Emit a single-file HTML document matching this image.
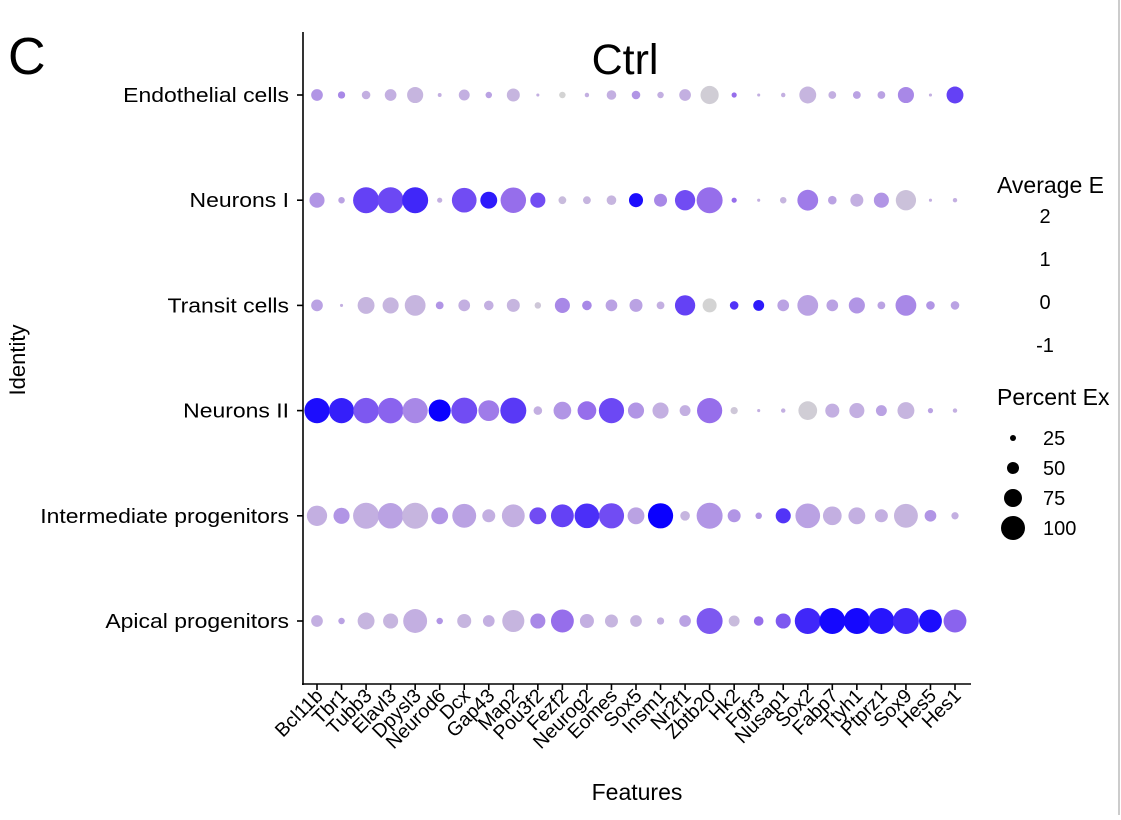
<!DOCTYPE html>
<html><head><meta charset="utf-8"><style>
body{margin:0;background:#fff;}
svg text{font-family:"Liberation Sans",sans-serif;fill:#000;}
</style></head><body>
<svg id="chart" width="1121" height="815" xmlns="http://www.w3.org/2000/svg">
<text x="8" y="74" font-size="52">C</text>
<text x="625" y="74" font-size="43" text-anchor="middle">Ctrl</text>
<text transform="translate(25,360) rotate(-90)" font-size="22" text-anchor="middle">Identity</text>
<text x="637" y="800" font-size="23" text-anchor="middle">Features</text>
<line x1="303" y1="32" x2="303" y2="685" stroke="#000" stroke-width="1.6"/>
<line x1="302" y1="684" x2="971" y2="684" stroke="#000" stroke-width="1.6"/>
<line x1="1119" y1="0" x2="1119" y2="815" stroke="#ccc" stroke-width="2"/>
<g id="marks"></g>
<text x="997" y="193" font-size="23">Average E</text>
<g id="colorleg"></g>
<text x="997" y="405" font-size="23">Percent Ex</text>
<g id="sizeleg"></g>
</svg>
<script>
const features=["Bcl11b","Tbr1","Tubb3","Elavl3","Dpysl3","Neurod6","Dcx","Gap43","Map2","Pou3f2","Fezf2","Neurog2","Eomes","Sox5","Insm1","Nr2f1","Zbtb20","Hk2","Fgfr3","Nusap1","Sox2","Fabp7","Ttyh1","Ptprz1","Sox9","Hes5","Hes1"];
const identities=["Endothelial cells","Neurons I","Transit cells","Neurons II","Intermediate progenitors","Apical progenitors"];
const pctEndo=[45,28,33,45,62,15,42,25,50,12,25,17,37,33,25,45,70,20,12,17,65,30,30,30,62,12,65];
const colEndo=[0.4,0.45,0.3,0.3,0.25,0.3,0.3,0.35,0.25,0.3,0,0.3,0.3,0.4,0.3,0.3,0.05,0.55,0.3,0.3,0.25,0.3,0.35,0.35,0.45,0.3,0.75];
const pctNeuI=[58,25,100,100,100,20,95,65,98,58,30,30,37,54,50,78,100,20,12,25,80,33,50,58,78,12,17];
const colNeuI=[0.4,0.35,0.75,0.72,0.85,0.3,0.7,0.9,0.55,0.7,0.2,0.25,0.25,0.95,0.45,0.7,0.55,0.55,0.3,0.25,0.5,0.35,0.3,0.4,0.15,0.3,0.3];
const pctTrans=[45,12,65,62,80,30,45,37,50,25,58,37,45,50,30,78,54,33,42,45,80,45,62,30,80,33,33];
const colTrans=[0.35,0.3,0.25,0.25,0.25,0.4,0.3,0.3,0.25,0.1,0.45,0.45,0.35,0.35,0.3,0.75,0,0.8,0.9,0.35,0.35,0.35,0.4,0.35,0.45,0.4,0.35];
const pctNeuII=[97,97,98,98,97,85,100,80,100,33,68,72,97,62,62,42,97,28,12,17,72,54,58,42,65,20,17];
const colNeuII=[0.95,0.88,0.65,0.6,0.45,1,0.7,0.5,0.78,0.3,0.4,0.55,0.72,0.4,0.3,0.3,0.55,0.1,0.3,0.3,0.05,0.3,0.3,0.35,0.25,0.35,0.3];
const pctInter=[78,62,100,98,100,65,92,50,88,65,88,95,97,65,97,37,100,50,25,58,95,72,65,50,92,45,28];
const colInter=[0.3,0.4,0.3,0.35,0.25,0.4,0.35,0.3,0.3,0.7,0.75,0.82,0.7,0.35,1,0.25,0.4,0.4,0.4,0.8,0.35,0.3,0.3,0.3,0.25,0.4,0.3];
const pctApical=[45,25,65,58,92,25,54,45,85,58,88,54,50,45,28,45,100,42,37,58,100,100,100,100,100,88,88];
const colApical=[0.3,0.35,0.25,0.25,0.3,0.4,0.25,0.3,0.25,0.45,0.55,0.3,0.25,0.25,0.3,0.35,0.65,0.2,0.55,0.65,0.85,0.97,0.97,0.92,0.85,0.95,0.6];
const pctRows=[pctEndo,pctNeuI,pctTrans,pctNeuII,pctInter,pctApical];
const colRows=[colEndo,colNeuI,colTrans,colNeuII,colInter,colApical];
const colorTicks=["2","1","0","-1"];
const sizeTicks=[25,50,75,100];

const NS="http://www.w3.org/2000/svg";
const xScale=i=>317+i*(955-317)/(features.length-1);
const yScale=j=>95+j*(621-95)/(identities.length-1);
const rScale=p=>Math.max(1,p/100*13);
const stops=[[0,[211,211,211]],[0.3,[195,175,225]],[0.55,[150,110,235]],[0.75,[100,65,245]],[1,[10,0,255]]];
function colorScale(v){
  for(let k=1;k<stops.length;k++){
    if(v<=stops[k][0]){
      const a=stops[k-1],b=stops[k],t=(v-a[0])/(b[0]-a[0]);
      return "rgb("+a[1].map((c,q)=>Math.round(c+(b[1][q]-c)*t)).join(",")+")";
    }
  }
  return "rgb(10,0,255)";
}
const marks=document.getElementById("marks");
function mk(tag,attrs,parent){const e=document.createElementNS(NS,tag);for(const k in attrs)e.setAttribute(k,attrs[k]);parent.appendChild(e);return e;}
identities.forEach((id,j)=>{
  const y=yScale(j);
  const tk=mk("line",{x1:297,x2:303,y1:y,y2:y,stroke:"#000","stroke-width":1.6},marks);
  
  
  const t=mk("text",{x:289,y:y+7,"font-size":20.5,"text-anchor":"end",transform:"translate(289,0) scale(1.12,1) translate(-289,0)"},marks);
  t.textContent=id;
  
  
});
features.forEach((f,i)=>{
  const x=xScale(i);
  const tk=mk("line",{x1:x,x2:x,y1:684,y2:690,stroke:"#000","stroke-width":1.6},marks);
  
  
  const t=mk("text",{transform:"translate("+(x+7)+",697) rotate(-45)","font-size":19.5,"text-anchor":"end"},marks);
  t.textContent=f;
  
  
});
identities.forEach((id,j)=>{
  features.forEach((f,i)=>{
    const c=mk("circle",{cx:xScale(i),cy:yScale(j),r:rScale(pctRows[j][i]),fill:colorScale(colRows[j][i])},marks);
    
    
  });
});
const cl=document.getElementById("colorleg");
colorTicks.forEach((v,k)=>{
  const t=mk("text",{x:1045,y:223+k*43,"font-size":20,"text-anchor":"middle"},cl);
  t.textContent=v;
  
  
});
const sl=document.getElementById("sizeleg");
sizeTicks.forEach((p,k)=>{
  const y=438+k*30;
  const c=mk("circle",{cx:1013,cy:y,r:p/100*12,fill:"#000"},sl);
  
  
  const t=mk("text",{x:1043,y:y+7,"font-size":20},sl);
  t.textContent=p;
  
  
});
</script>
</body></html>
